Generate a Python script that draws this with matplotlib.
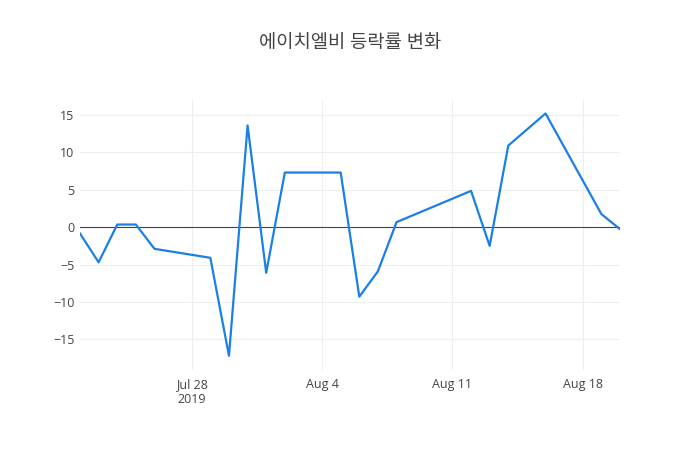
import matplotlib
matplotlib.use("Agg")
import matplotlib.pyplot as plt
import pandas as pd

plt.rcParams['font.family'] = ['Open Sans', 'Noto Sans CJK KR', 'DejaVu Sans']

# daily change (%)
dates = ["2019-07-22", "2019-07-23", "2019-07-24", "2019-07-25", "2019-07-26",
         "2019-07-29", "2019-07-30", "2019-07-31", "2019-08-01", "2019-08-02",
         "2019-08-05", "2019-08-06", "2019-08-07", "2019-08-08", "2019-08-12",
         "2019-08-13", "2019-08-14", "2019-08-16", "2019-08-19", "2019-08-20"]
changes = [-0.85, -4.7, 0.35, 0.35, -2.9,
           -4.1, -17.2, 13.6, -6.1, 7.3,
           7.3, -9.3, -5.9, 0.67, 4.85,
           -2.5, 10.9, 15.2, 1.75, -0.27]

tick_dates = ["2019-07-28", "2019-08-04", "2019-08-11", "2019-08-18"]
tick_labels = ["Jul 28\n2019", "Aug 4", "Aug 11", "Aug 18"]
y_ticks = [-15, -10, -5, 0, 5, 10, 15]

x = pd.to_datetime(dates)

fig = plt.figure(figsize=(7, 4.5), dpi=100)
ax = fig.add_axes([80 / 700, 80 / 450, 540 / 700, 270 / 450])

ax.plot(x, changes, color='#1a7fe6', linewidth=1.6, zorder=3)
ax.axhline(0, color='#444444', linewidth=0.8, zorder=2)

ax.set_xlim(x[0], x[-1])
ax.set_ylim(-19.1, 17.0)

ax.set_xticks(pd.to_datetime(tick_dates))
ax.set_xticklabels(tick_labels)
ax.set_yticks(y_ticks)

for s in ax.spines.values():
    s.set_visible(False)
ax.grid(True, color='#eeeeee', linewidth=0.8, zorder=0)
ax.set_axisbelow(True)
ax.tick_params(axis='both', length=0, colors='#444444', labelsize=9)
ax.tick_params(axis='x', pad=6)
ax.tick_params(axis='y', pad=4)

fig.text(0.5, 1 - 43 / 450, "에이치엘비 등락률 변화", ha='center', va='center',
         fontsize=13.5, color='#444444')

fig.savefig("out.png", dpi=100)
